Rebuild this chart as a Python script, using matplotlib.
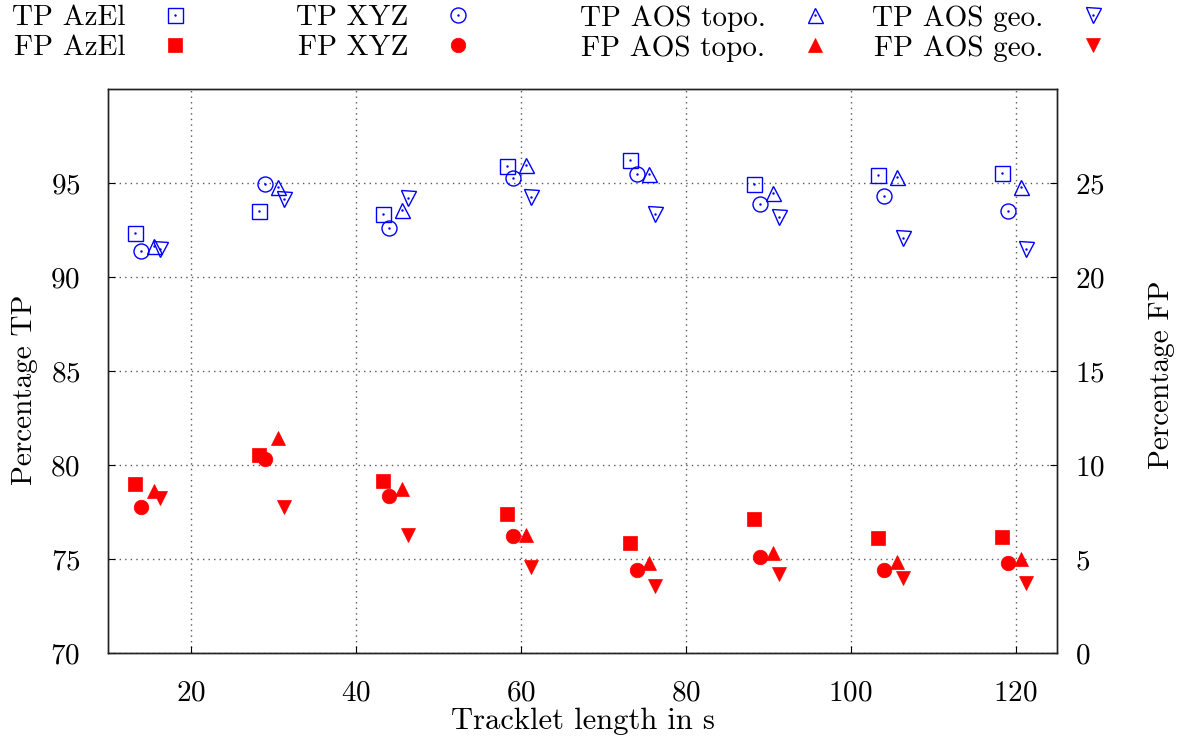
import matplotlib as mpl
import matplotlib.pyplot as plt
from matplotlib.legend_handler import HandlerTuple

mpl.rcParams.update({"font.family": "cmr10", "axes.formatter.use_mathtext": True,
                     "font.size": 21})

# tracklet length groups (s) and small horizontal offsets per method
t_len = [15, 30, 45, 60, 75, 90, 105, 120]
offsets = [-1.7, -0.95, 0.6, 1.3]

# percentage true positives (left axis)
tp_azel = [92.37, 93.51, 93.38, 95.92, 96.24, 94.98, 95.44, 95.53]
tp_xyz = [91.41, 94.98, 92.61, 95.28, 95.49, 93.88, 94.31, 93.51]
tp_topo = [91.66, 94.80, 93.56, 95.99, 95.49, 94.48, 95.35, 94.80]
tp_geo = [91.50, 94.15, 94.22, 94.26, 93.38, 93.21, 92.09, 91.51]

# percentage false positives (right axis)
fp_azel = [9.00, 10.55, 9.15, 7.39, 5.85, 7.13, 6.12, 6.17]
fp_xyz = [7.78, 10.32, 8.38, 6.26, 4.43, 5.11, 4.45, 4.79]
fp_topo = [8.63, 11.47, 8.76, 6.29, 4.79, 5.35, 4.86, 5.03]
fp_geo = [8.24, 7.77, 6.28, 4.61, 3.56, 4.22, 3.99, 3.76]

methods = ["AzEl", "XYZ", "AOS topo.", "AOS geo."]
markers = ["s", "o", "^", "v"]
tp_all = [tp_azel, tp_xyz, tp_topo, tp_geo]
fp_all = [fp_azel, fp_xyz, fp_topo, fp_geo]

W, H = 1186, 743
fig = plt.figure(figsize=(W / 100, H / 100), dpi=100)
L, R, T, B = 108, 1057, 89.3, 653.3
ax = fig.add_axes([L / W, 1 - B / H, (R - L) / W, (B - T) / H])
ax2 = ax.twinx()

BLUE = "#0000ff"
RED = "#ff0000"

legend_pairs = []
for name, mk, off, tp, fp in zip(methods, markers, offsets, tp_all, fp_all):
    xs = [x + off for x in t_len]
    h_tp, = ax.plot(xs, tp, ls="none", marker=mk, ms=10.8, mfc="none",
                    mec=BLUE, mew=1.0, zorder=3)
    h_dot, = ax.plot(xs, tp, ls="none", marker=".", ms=1.5, color=BLUE, zorder=3)
    h_fp, = ax2.plot(xs, fp, ls="none", marker=mk, ms=10.5, mfc=RED, mec=RED,
                     mew=0.5, zorder=3)
    legend_pairs.append(((h_tp, h_dot), h_fp, name))

ax.set_xlim(10, 125)
ax.set_ylim(70, 100)
ax2.set_ylim(0, 30)
ax.set_xticks([20, 40, 60, 80, 100, 120])
ax.set_yticks([70, 75, 80, 85, 90, 95])
ax2.set_yticks([0, 5, 10, 15, 20, 25])

ax.tick_params(axis="x", direction="in", length=5, pad=19)
ax.tick_params(axis="y", direction="in", length=5, pad=20)
ax2.tick_params(axis="y", direction="in", length=5, pad=13)

ax.grid(True, color="0.35", lw=1.0, ls=(0, (1, 3)), zorder=0)
for a in (ax, ax2):
    for s in a.spines.values():
        s.set_linewidth(1.0)
        s.set_color("#222222")

ax.text(0.5, (B - 721) / (B - T), "Tracklet length in s", transform=ax.transAxes,
        ha="center", va="center", fontsize=22)
ax.text((25 - L) / (R - L), 0.467, "Percentage TP", transform=ax.transAxes,
        ha="center", va="center", rotation=90)
ax.text((1162 - L) / (R - L), 0.493, "Percentage FP", transform=ax.transAxes,
        ha="center", va="center", rotation=90)

# legend: one small block per method, text left of the sample, like gnuplot
marker_x = [175, 458, 815, 1093]
fs = 21
hl = 1.0
for (h_tp, h_fp, name), mx in zip(legend_pairs, marker_x):
    anchor_x = (mx + hl * fs * 100 / 72 / 2) / W
    fig.legend([h_tp, h_fp], ["TP " + name, "FP " + name],
               handler_map={tuple: HandlerTuple(ndivide=1)},
               loc="upper right", bbox_to_anchor=(anchor_x, 1 - 5 / H),
               frameon=False, markerfirst=False, borderpad=0, borderaxespad=0,
               handlelength=hl, handletextpad=1.2, labelspacing=0.12,
               fontsize=fs)

fig.savefig("out.png", dpi=100, facecolor="white")
